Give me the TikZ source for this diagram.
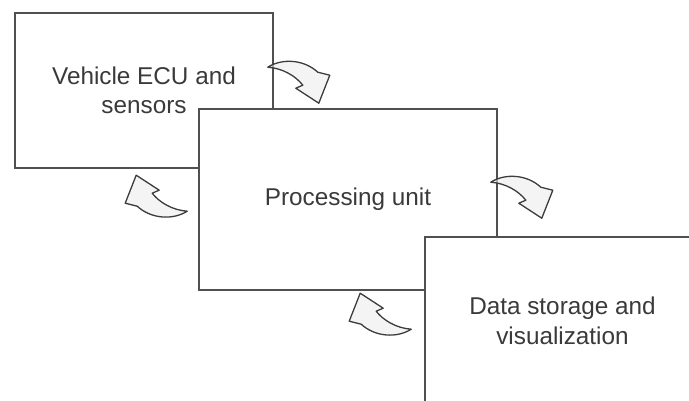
\documentclass[tikz,border=0pt]{standalone}
\usepackage{fontspec}
\setmainfont{Liberation Sans}
\usetikzlibrary{calc}
\definecolor{edge}{HTML}{505050}
\definecolor{arrowedge}{HTML}{3C3C3C}
\definecolor{txt}{HTML}{3A3A3A}
\definecolor{afill}{HTML}{EDEDED}
\begin{document}
\begin{tikzpicture}[x=1pt,y=-1pt,
  box/.style={draw=edge, line width=1.6pt, fill=white, inner sep=0pt, align=center,
    text=txt, font=\fontsize{24.3}{29.5}\selectfont},
  curvarrow/.pic={\draw[draw=arrowedge, line width=1.3pt, fill=afill, fill opacity=0.6, line join=round]
    (0,0) .. controls (14,-9) and (36,-8) .. (50,5) -- (62,8) -- (51,36) -- (28,21) -- (35,18)
    .. controls (28,9) and (15,1) .. cycle;}]
\useasboundingbox (0,0) rectangle (689,401);
\clip (0,0) rectangle (689,401);
\node[box, minimum width=258pt, minimum height=155pt] (ecu) at (144,90.5) {Vehicle ECU and\\sensors};
\node[box, minimum width=298pt, minimum height=181pt] (proc) at (348,199.5) {Processing unit};
\node[box, minimum width=275pt, minimum height=168pt] (data) at (562.5,321) {Data storage and\\visualization};
\pic at ($(ecu.north east)+(-6,55)$) {curvarrow};
\pic[rotate=180] at ($(proc.north west)+(-11,103)$) {curvarrow};
\pic at ($(proc.north east)+(-7,74)$) {curvarrow};
\pic[rotate=180] at ($(data.north west)+(-13,93)$) {curvarrow};
\end{tikzpicture}
\end{document}
